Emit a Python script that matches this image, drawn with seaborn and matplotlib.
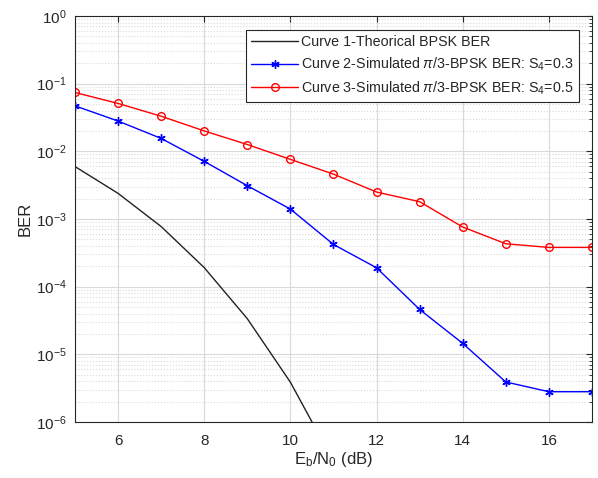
import matplotlib
matplotlib.use("Agg")
import matplotlib.pyplot as plt
import seaborn as sns
from matplotlib.ticker import LogLocator, NullFormatter

# Eb/N0 (dB)
ebn0 = [5, 6, 7, 8, 9, 10, 11, 12, 13, 14, 15, 16, 17]

# theoretical BPSK BER values
ber_theory = [5.95e-3, 2.39e-3, 7.73e-4, 1.91e-4, 3.36e-5, 3.87e-6, 2.61e-7,
              9.0e-9, 1.33e-10, 6.8e-13, 1.0e-15, 4.0e-19, 3.0e-23]
# simulated pi/3-BPSK, S4=0.3
ber_s03 = [0.047, 0.028, 0.0155, 0.0071, 0.0031, 0.0014, 4.2e-4,
           1.9e-4, 4.6e-5, 1.45e-5, 3.9e-6, 2.8e-6, 2.8e-6]
# simulated pi/3-BPSK, S4=0.5
ber_s05 = [0.074, 0.051, 0.033, 0.020, 0.0126, 0.0076, 0.0046,
           0.0025, 0.0018, 7.6e-4, 4.3e-4, 3.8e-4, 3.8e-4]

labels = ['Curve 1-Theorical BPSK BER',
          r'Curve 2-Simulated $\pi$/3-BPSK BER: S$_4$=0.3',
          r'Curve 3-Simulated $\pi$/3-BPSK BER: S$_4$=0.5']

sns.set_style('white')
plt.rcParams['font.family'] = ['Liberation Sans', 'DejaVu Sans']
plt.rcParams['mathtext.fontset'] = 'custom'
plt.rcParams['mathtext.rm'] = 'Liberation Sans'
plt.rcParams['mathtext.it'] = 'Liberation Sans:italic'

fig = plt.figure(figsize=(5.98, 4.78), dpi=100)
ax = fig.add_axes([0.1254, 0.1172, 0.8645, 0.8494])

sns.lineplot(x=ebn0, y=ber_theory, color='#222222', linewidth=1.0, label=labels[0], ax=ax)
sns.lineplot(x=ebn0, y=ber_s03, color='blue', linewidth=1.0, marker=(6, 2, 0), markersize=6,
             markeredgewidth=1.0, markeredgecolor='blue', label=labels[1], ax=ax)
sns.lineplot(x=ebn0, y=ber_s05, color='red', linewidth=1.0, marker='o', markersize=5.5,
             markerfacecolor='none', markeredgecolor='red', markeredgewidth=1.0,
             label=labels[2], ax=ax)

ax.set_yscale('log')
ax.set_xlim(5, 17)
ax.set_ylim(1e-6, 1)
ax.set_xticks([6, 8, 10, 12, 14, 16])
ax.yaxis.set_major_locator(LogLocator(base=10, numticks=10))
ax.yaxis.set_minor_locator(LogLocator(base=10, subs=range(2, 10), numticks=100))
ax.yaxis.set_minor_formatter(NullFormatter())

ax.grid(True, which='major', color='#d9d9d9', linewidth=0.8)
ax.grid(True, which='minor', axis='y', color='#d9d9d9', linestyle=':', linewidth=0.8)
ax.tick_params(direction='in', which='both', top=True, right=True, labelsize=11,
               colors='#262626', length=4, pad=6)
ax.tick_params(axis='x', pad=9)
ax.tick_params(which='minor', length=2)
for s in ax.spines.values():
    s.set_color('#262626')
    s.set_linewidth(0.8)

ax.set_xlabel(r'E$_\mathrm{b}$/N$_\mathrm{0}$ (dB)', fontsize=12, color='#262626', labelpad=1)
ax.set_ylabel('BER', fontsize=12, color='#262626', labelpad=2)

leg = ax.legend(loc='upper left', bbox_to_anchor=(0.331, 0.965), fontsize=10.3,
                frameon=True, fancybox=False, edgecolor='#262626', framealpha=1,
                handlelength=3.3, handletextpad=0.2, borderaxespad=0.0,
                borderpad=0.35, labelspacing=0.45)
leg.get_frame().set_linewidth(0.8)

fig.savefig('out.png', dpi=100)
